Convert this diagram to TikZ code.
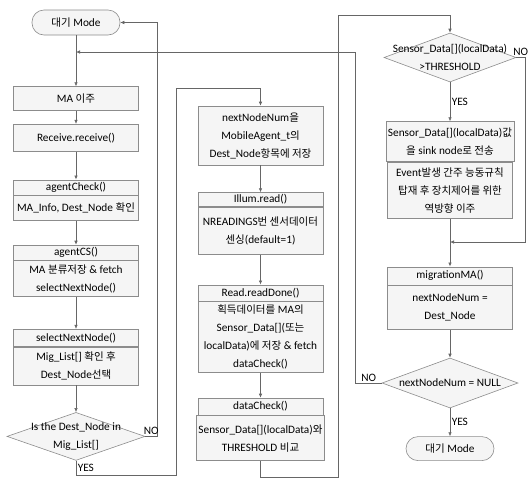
\documentclass[tikz,border=0pt]{standalone}
\usepackage{fontspec}
\setmainfont{Carlito}
\newfontfamily\krfont{Noto Sans CJK KR}[Scale=0.93]
\newcommand{\kr}[1]{{\krfont #1}}
\usepackage{tikz}
\usetikzlibrary{shapes.geometric, arrows.meta, positioning}

\begin{document}
\begin{tikzpicture}[
  x=1pt, y=1pt,
  font=\fontsize{11.3}{18}\selectfont,
  term/.style={
    rectangle, rounded corners=12pt,
    minimum width=88pt, minimum height=25pt,
    draw=black!45, fill=gray!8, line width=0.6pt
  },
  box/.style={
    rectangle, minimum width=125pt, inner sep=2pt,
    align=center, draw=black!45, fill=gray!8, line width=0.6pt
  },
  decision/.style={
    diamond, inner sep=0pt,
    draw=black!45, fill=gray!8, line width=0.6pt
  },
  dtext/.style={align=center},
  arr/.style={-{Latex[length=4pt, width=3.5pt]}, line width=0.6pt, draw=black!60},
  lbl/.style={inner sep=1.5pt},
]
\useasboundingbox (0,0) rectangle (530,-483);

% left column
\node[term] (start) at (76,-22.5) {\kr{대기} Mode};
\node[box, minimum height=24pt, below=51pt of start] (ma) {MA \kr{이주}};
\node[box, minimum height=27pt, below=13pt of ma] (recv) {Receive.receive()};
\node[box, minimum height=15pt, below=28pt of recv] (chk) {agentCheck()};
\node[box, minimum height=25pt, below=0pt of chk] (chkb) {MA\_Info, Dest\_Node \kr{확인}};
\node[box, minimum height=15pt, below=24pt of chkb] (cs) {agentCS()};
\node[box, minimum height=36pt, below=0pt of cs] (csb)
      {MA \kr{분류저장} \& fetch\\selectNextNode()};
\node[box, minimum height=17pt, below=32pt of csb] (sel) {selectNextNode()};
\node[box, minimum height=38pt, below=0pt of sel] (selb)
      {Mig\_List[] \kr{확인 후}\\Dest\_Node\kr{선택}};
\node[decision, minimum width=138pt, minimum height=48pt, below=27pt of selb,
      label={[dtext]center:Is the Dest\_Node in\\Mig\_List[]}] (dest) {};

% middle column
\node[box, minimum height=59pt] (next) at (260.5,-135.5)
      {nextNodeNum\kr{을}\\MobileAgent\_t\kr{의}\\Dest\_Node\kr{항목에 저장}};
\node[box, minimum height=14pt, below=27pt of next] (ill) {Illum.read()};
\node[box, minimum height=47pt, below=0pt of ill] (illb)
      {NREADINGS\kr{번 센서데이터}\\\kr{센싱}(default=1)};
\node[box, minimum height=16pt, below=30pt of illb] (rd) {Read.readDone()};
\node[box, minimum height=71pt, below=0pt of rd] (rdb)
      {\kr{획득데이터를} MA\kr{의}\\Sensor\_Data[](\kr{또는}\\localData)\kr{에 저장} \& fetch\\dataCheck()};
\node[box, minimum height=17pt, below=25pt of rdb] (dc) {dataCheck()};
\node[box, minimum height=45pt, below=0pt of dc] (dcb)
      {Sensor\_Data[](localData)\kr{와}\\THRESHOLD \kr{비교}};

% right column
\node[decision, minimum width=132pt, minimum height=49pt,
      label={[dtext]center:Sensor\_Data[](localData)\\>THRESHOLD}] (thr) at (450,-57.5) {};
\node[box, minimum height=40pt, below=39pt of thr] (snd)
      {Sensor\_Data[](localData)\kr{값}\\\kr{을} sink node\kr{로 전송}};
\node[box, minimum height=56pt, below=0pt of snd] (sndb)
      {Event\kr{발생 간주 능동규칙}\\\kr{탑재 후 장치제어를 위한}\\\kr{역방향 이주}};
\node[box, minimum height=18pt, below=48pt of sndb] (mig) {migrationMA()};
\node[box, minimum height=44pt, below=0pt of mig] (migb) {nextNodeNum =\\Dest\_Node};
\node[decision, minimum width=136pt, minimum height=50pt, below=28pt of migb,
      label={[dtext]center:nextNodeNum = NULL}] (nul) {};
\node[term, minimum height=24pt, below=28pt of nul] (fin) {\kr{대기} Mode};

% junctions and bends
\coordinate (back) at (76,-52);
\coordinate (up1) at (176,-88);
\coordinate (up2) at (338,-15);
\coordinate (join) at (450,-242);

\draw[arr] (start) -- (ma);
\draw[arr] (ma) -- (recv);
\draw[arr] (recv) -- (chk);
\draw[arr] (chkb) -- (cs);
\draw[arr] (csb) -- (sel);
\draw[arr] (selb) -- (dest);
\draw[arr] (dest.east) -- node[lbl, above] (no1) {NO} ++(12,0) |- (start.east);
\draw[arr] (dest.south) -- node[lbl, right] (yes1) {YES} ++(0,-15) -| (up1) -| (next.north);

\draw[arr] (next) -- (ill);
\draw[arr] (illb) -- (rd);
\draw[arr] (rdb) -- (dc);
\draw[arr] (dcb.south) -- ++(0,-16) -| (up2) -| (thr.north);

\draw[arr] (thr) -- node[lbl, right] (yes2) {YES} (snd);
\draw[arr] (thr.east) -- node[lbl, above] (no2) {NO} ++(9,0) |- (join);
\draw[arr] (sndb) -- (mig);
\draw[arr] (migb) -- (nul);
\draw[arr] (nul) -- node[lbl, right] (yes3) {YES} (fin);
\draw[arr] (nul.west) -- node[lbl, above] (no3) {NO} ++(-26,0) |- (back);

\end{tikzpicture}
\end{document}
